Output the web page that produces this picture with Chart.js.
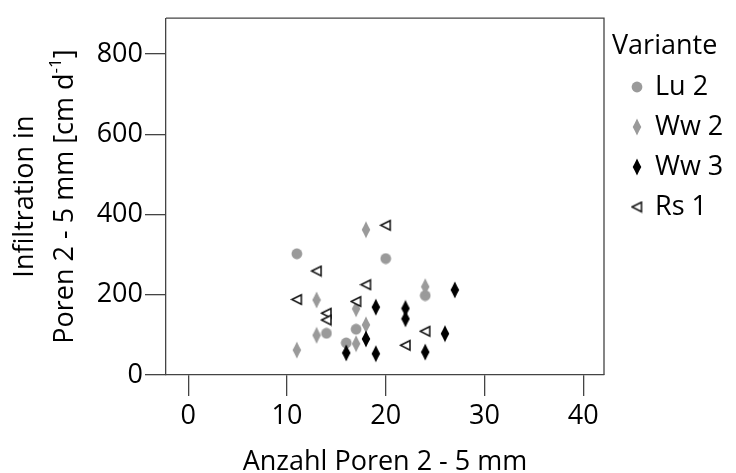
<!DOCTYPE html>
<html><head><meta charset="utf-8">
<script src="https://cdn.jsdelivr.net/npm/chart.js@4"></script>
<style>html,body{margin:0;padding:0;background:#fff}#wrap{width:736px;height:473px;position:relative}</style>
</head><body><div id="wrap"><canvas id="c" width="736" height="473"></canvas></div>
<script>
// ---- data ----
const seriesNames = ['Lu 2', 'Ww 2', 'Ww 3', 'Rs 1'];
const lu2X = [11, 20, 24, 14, 17, 16];
const lu2Y = [302, 290, 198, 104, 114, 80];
const ww2X = [18, 13, 24, 17, 18, 13, 17, 11];
const ww2Y = [362, 187, 220, 165, 125, 99, 78, 62];
const ww3X = [19, 22, 22, 27, 18, 26, 16, 19, 24];
const ww3Y = [169, 166, 140, 212, 90, 103, 55, 53, 57];
const rs1X = [20, 13, 11, 18, 17, 14, 14, 24, 22];
const rs1Y = [373, 259, 188, 225, 183, 154, 137, 109, 74];
const xTicks = [0, 10, 20, 30, 40];
const yTicks = [0, 200, 400, 600, 800];
const xTitle = 'Anzahl Poren 2 - 5 mm';
const yTitle1 = 'Infiltration in';
const yTitle2 = 'Poren 2 - 5 mm [cm d';
const yTitleSup = '-1';
const yTitle2End = ']';
const legendTitle = 'Variante';

// ---- marker images ----
function mk(w, h, draw) { const c = document.createElement('canvas'); c.width = w; c.height = h; draw(c.getContext('2d'), w, h); return c; }
const GREY = '#9a9a9a';
const circleImg = mk(12, 12, g => { g.fillStyle = GREY; g.beginPath(); g.arc(6, 6, 5.4, 0, Math.PI * 2); g.fill(); });
const diamondImg = col => mk(10, 18, g => { g.fillStyle = col; g.beginPath(); g.moveTo(5, 0.5); g.quadraticCurveTo(7, 5, 9.3, 9); g.quadraticCurveTo(7, 13, 5, 17.5); g.quadraticCurveTo(3, 13, 0.7, 9); g.quadraticCurveTo(3, 5, 5, 0.5); g.closePath(); g.fill(); });
const triImg = mk(13, 13, g => { g.strokeStyle = '#111'; g.lineWidth = 1.5; g.lineJoin = 'miter'; g.fillStyle = '#fff'; g.beginPath(); g.moveTo(1.5, 6.5); g.lineTo(11, 1.8); g.lineTo(11, 11.2); g.closePath(); g.fill(); g.stroke(); });

const pts = (xs, ys) => xs.map((x, i) => ({ x: x, y: ys[i] }));
const FONT = '"Open Sans", "Liberation Sans", sans-serif';
const FS = 27;
const TXT = '#000';
const AX = '#444';

const framePlugin = {
  id: 'frame',
  afterDraw(chart) {
    const { ctx, chartArea: a } = chart;
    ctx.save();
    ctx.strokeStyle = AX; ctx.lineWidth = 1.3;
    ctx.beginPath();
    ctx.moveTo(a.left, a.top); ctx.lineTo(a.right, a.top); ctx.lineTo(a.right, a.bottom);
    ctx.stroke();
    // y title
    ctx.fillStyle = TXT;
    ctx.textBaseline = 'middle';
    ctx.translate(25, (a.top + a.bottom) / 2);
    ctx.rotate(-Math.PI / 2);
    ctx.font = FS + 'px ' + FONT;
    ctx.textAlign = 'center';
    ctx.fillText(yTitle1, 0, 0);
    const w1 = ctx.measureText(yTitle2).width;
    const w3 = ctx.measureText(yTitle2End).width;
    ctx.font = Math.round(FS * 0.62) + 'px ' + FONT;
    const w2 = ctx.measureText(yTitleSup).width;
    const tot = w1 + w2 + w3;
    ctx.textAlign = 'left';
    let x0 = -tot / 2;
    ctx.font = FS + 'px ' + FONT;
    ctx.fillText(yTitle2, x0, 40);
    ctx.font = Math.round(FS * 0.62) + 'px ' + FONT;
    ctx.fillText(yTitleSup, x0 + w1, 40 - 9);
    ctx.font = FS + 'px ' + FONT;
    ctx.fillText(yTitle2End, x0 + w1 + w2, 40);
    ctx.restore();
    // legend
    ctx.save();
    ctx.fillStyle = TXT;
    ctx.font = FS + 'px ' + FONT;
    ctx.textBaseline = 'middle';
    ctx.textAlign = 'left';
    ctx.fillText(legendTitle, a.right + 8, 46);
    chart.data.datasets.forEach((ds, i) => {
      const img = ds.pointStyle;
      const y = 87 + i * 40;
      ctx.drawImage(img, a.right + 33 - img.width / 2, y - img.height / 2);
      ctx.fillText(ds.label, a.right + 51, y);
    });
    ctx.restore();
  }
};

new Chart(document.getElementById('c'), {
  type: 'scatter',
  data: {
    datasets: [
      { label: seriesNames[0], data: pts(lu2X, lu2Y), pointStyle: circleImg, order: 4 },
      { label: seriesNames[1], data: pts(ww2X, ww2Y), pointStyle: diamondImg(GREY), order: 3 },
      { label: seriesNames[2], data: pts(ww3X, ww3Y), pointStyle: diamondImg('#000'), order: 2 },
      { label: seriesNames[3], data: pts(rs1X, rs1Y), pointStyle: triImg, order: 1 }
    ]
  },
  options: {
    responsive: false,
    animation: false,
    devicePixelRatio: 1,
    layout: { padding: { top: 15, right: 132, left: 0, bottom: 0 } },
    plugins: { legend: { display: false }, tooltip: { enabled: false } },
    elements: { point: { radius: 6, hoverRadius: 6 } },
    scales: {
      x: {
        type: 'linear', min: -2.25, max: 42.1,
        afterBuildTicks: s => { s.ticks = xTicks.map(v => ({ value: v })); },
        afterFit: s => { s.height = 98; },
        grid: { drawOnChartArea: false, drawTicks: true, tickLength: 21, color: AX, lineWidth: 1.3 },
        border: { color: AX, width: 1.3 },
        ticks: { font: { family: FONT, size: FS }, color: TXT, padding: 4, maxRotation: 0, autoSkip: false },
        title: { display: true, text: xTitle, font: { family: FONT, size: FS }, color: TXT, padding: { top: 0, bottom: -6 } }
      },
      y: {
        type: 'linear', min: 0, max: 889,
        afterBuildTicks: s => { s.ticks = yTicks.map(v => ({ value: v })); },
        afterFit: s => { s.width = 166; },
        grid: { drawOnChartArea: false, drawTicks: true, tickLength: 21, color: AX, lineWidth: 1.3 },
        border: { color: AX, width: 1.3 },
        ticks: { font: { family: FONT, size: FS }, color: TXT, padding: 2, autoSkip: false }
      }
    }
  },
  plugins: [framePlugin]
});
</script>
</body></html>
